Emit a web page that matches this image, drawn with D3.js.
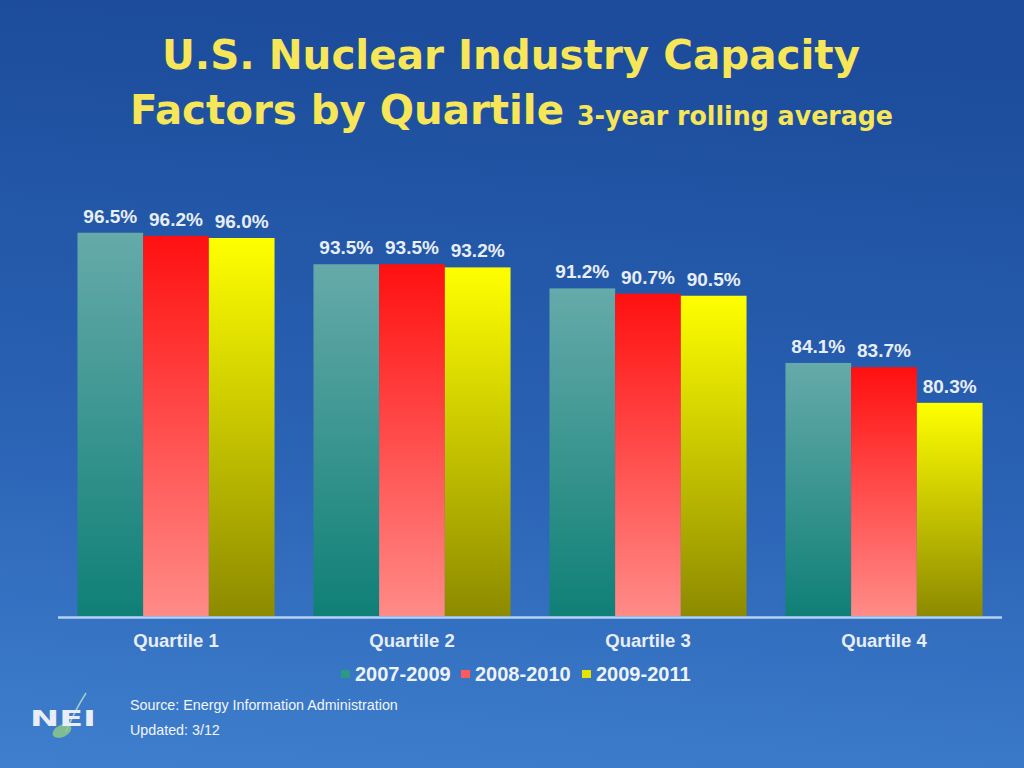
<!DOCTYPE html>
<html>
<head>
<meta charset="utf-8">
<script src="https://cdn.jsdelivr.net/npm/d3@7"></script>
<style>
  html, body { margin: 0; padding: 0; background: #2a62b3; }
  svg { display: block; }
</style>
</head>
<body>
<svg width="1024" height="768"></svg>
<script>
// data
var quartiles = ["Quartile 1", "Quartile 2", "Quartile 3", "Quartile 4"];
var periods = ["2007-2009", "2008-2010", "2009-2011"];
var v2007_2009 = [96.5, 93.5, 91.2, 84.1];
var v2008_2010 = [96.2, 93.5, 90.7, 83.7];
var v2009_2011 = [96.0, 93.2, 90.5, 80.3];
var valueLabels = [
  ["96.5%", "93.5%", "91.2%", "84.1%"],
  ["96.2%", "93.5%", "90.7%", "83.7%"],
  ["96.0%", "93.2%", "90.5%", "80.3%"]
];

var series = [v2007_2009, v2008_2010, v2009_2011];

var svg = d3.select("svg"),
  width = +svg.attr("width"),
  height = +svg.attr("height");

var defs = svg.append("defs");

// background
var bg = defs.append("linearGradient").attr("id", "bg")
  .attr("x1", 0.1).attr("y1", 0).attr("x2", 0).attr("y2", 1);
bg.append("stop").attr("offset", "0%").attr("stop-color", "#1c4c9b");
bg.append("stop").attr("offset", "55%").attr("stop-color", "#2a62b4");
bg.append("stop").attr("offset", "100%").attr("stop-color", "#3f7fce");

svg.append("rect").attr("width", width).attr("height", height).attr("fill", "url(#bg)");

// bar gradients (top colour -> bottom colour)
var grads = [
  {id: "g0", top: "#66aaaa", bottom: "#0f8076", key: "#2a9a85"},
  {id: "g1", top: "#ff1010", bottom: "#ff8b88", key: "#ff5a5a"},
  {id: "g2", top: "#ffff00", bottom: "#8d8a00", key: "#e4e400"}
];
grads.forEach(function(c) {
  var g = defs.append("linearGradient").attr("id", c.id)
    .attr("x1", 0).attr("y1", 0).attr("x2", 0).attr("y2", 1);
  g.append("stop").attr("offset", "0%").attr("stop-color", c.top);
  g.append("stop").attr("offset", "100%").attr("stop-color", c.bottom);
});

// title
var titleFont = "DejaVu Sans Condensed, DejaVu Sans";
svg.append("text")
  .attr("x", 511).attr("y", 69)
  .attr("text-anchor", "middle")
  .attr("font-family", titleFont)
  .attr("font-weight", "bold")
  .attr("font-size", 41)
  .attr("fill", "#f6e658")
  .attr("textLength", 698).attr("lengthAdjust", "spacingAndGlyphs")
  .text("U.S. Nuclear Industry Capacity");

svg.append("text")
  .attr("x", 130).attr("y", 124)
  .attr("font-family", titleFont)
  .attr("font-weight", "bold")
  .attr("font-size", 41)
  .attr("fill", "#f6e658")
  .attr("textLength", 434).attr("lengthAdjust", "spacingAndGlyphs")
  .text("Factors by Quartile");

svg.append("text")
  .attr("x", 577).attr("y", 125)
  .attr("font-family", titleFont)
  .attr("font-weight", "bold")
  .attr("font-size", 26)
  .attr("fill", "#f6e658")
  .attr("textLength", 316).attr("lengthAdjust", "spacingAndGlyphs")
  .text("3-year rolling average");

// scales
var x0 = d3.scaleBand().domain(quartiles).range([58, 1002])
  .paddingInner(0.165).paddingOuter(0.0825);
var x1 = d3.scaleBand().domain(periods).range([0, x0.bandwidth()]);
var y = d3.scaleLinear().domain([60, 100]).range([616, 196]);

var g = svg.append("g");

var groups = g.selectAll(".grp")
  .data(quartiles)
  .enter().append("g")
  .attr("transform", function(d) { return "translate(" + x0(d) + ",0)"; });

groups.selectAll("rect")
  .data(function(d, i) {
    return periods.map(function(p, j) { return {p: p, v: series[j][i], j: j}; });
  })
  .enter().append("rect")
  .attr("x", function(d) { return x1(d.p); })
  .attr("y", function(d) { return y(d.v); })
  .attr("width", x1.bandwidth())
  .attr("height", function(d) { return y(60) - y(d.v); })
  .attr("fill", function(d) { return "url(#" + grads[d.j].id + ")"; });

groups.selectAll(".lbl")
  .data(function(d, i) {
    return periods.map(function(p, j) { return {p: p, v: series[j][i], label: valueLabels[j][i]}; });
  })
  .enter().append("text")
  .attr("class", "lbl")
  .attr("x", function(d) { return x1(d.p) + x1.bandwidth() / 2; })
  .attr("y", function(d) { return y(d.v) - 10; })
  .attr("text-anchor", "middle")
  .attr("font-family", "Liberation Sans, Arial")
  .attr("font-weight", "bold")
  .attr("font-size", 19)
  .attr("fill", "#e8eef7")
  .text(function(d) { return d.label; });

// x axis
var xAxis = g.append("g")
  .attr("transform", "translate(0,617)")
  .call(d3.axisBottom(x0).tickSize(0).tickPadding(17).tickSizeOuter(0));
xAxis.select(".domain")
  .attr("stroke", "#b4d2f2")
  .attr("stroke-width", 2.5)
  .attr("d", "M58,0.5H1002");
xAxis.selectAll("text")
  .attr("font-family", "Liberation Sans, Arial")
  .attr("font-weight", "bold")
  .attr("font-size", 18.5)
  .attr("fill", "#e8eef7");

// legend
var legendX = [341, 461, 582];
var legend = svg.append("g").selectAll("g")
  .data(periods)
  .enter().append("g")
  .attr("transform", function(d, i) { return "translate(" + legendX[i] + ",674)"; });
legend.append("rect")
  .attr("x", 0).attr("y", -4).attr("width", 9).attr("height", 8)
  .attr("fill", function(d, i) { return grads[i].key; });
legend.append("text")
  .attr("x", 14).attr("y", 7)
  .attr("font-family", "Liberation Sans, Arial")
  .attr("font-weight", "bold")
  .attr("font-size", 20)
  .attr("fill", "#eef2f9")
  .text(function(d) { return d; });

// source notes
svg.append("text")
  .attr("x", 130).attr("y", 710)
  .attr("font-family", "Liberation Sans, Arial")
  .attr("font-size", 14.3)
  .attr("fill", "#f2f5fb")
  .text("Source: Energy Information Administration");
svg.append("text")
  .attr("x", 130).attr("y", 735)
  .attr("font-family", "Liberation Sans, Arial")
  .attr("font-size", 14.3)
  .attr("fill", "#f2f5fb")
  .text("Updated: 3/12");

// NEI logo
var logo = svg.append("g");
logo.append("path")
  .attr("d", "M86,693 Q74,712 66,732")
  .attr("fill", "none").attr("stroke", "#9fd0c8").attr("stroke-width", 1.5);
logo.append("ellipse")
  .attr("cx", 62).attr("cy", 731).attr("rx", 10).attr("ry", 6)
  .attr("transform", "rotate(-25,62,731)")
  .attr("fill", "#8cc88a").attr("opacity", 0.85);
logo.append("text")
  .attr("x", 30).attr("y", 726)
  .attr("font-family", "DejaVu Sans, Verdana")
  .attr("font-weight", "bold")
  .attr("font-size", 22)
  .attr("fill", "#e9eef6")
  .attr("textLength", 66).attr("lengthAdjust", "spacingAndGlyphs")
  .text("NEI");
</script>
</body>
</html>
